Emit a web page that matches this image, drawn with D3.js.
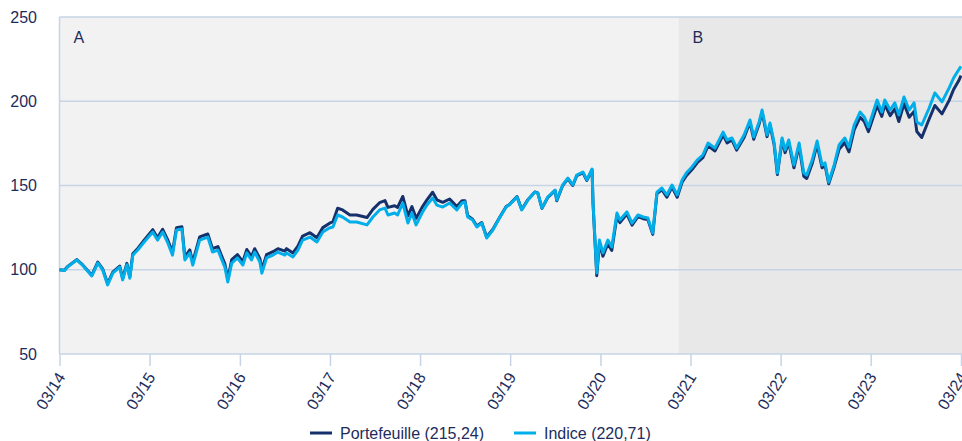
<!DOCTYPE html>
<html>
<head>
<meta charset="utf-8">
<script src="https://cdn.jsdelivr.net/npm/d3@7"></script>
<style>
  body { margin: 0; background: #fff; }
  svg { display: block; font-family: "Liberation Sans", Arial, sans-serif; }
</style>
</head>
<body>
<svg id="chart" width="962" height="441"></svg>
<script>
// values (base 100 at 03/14)
const dates = [
  "2014-03-31","2014-04-20","2014-05-02","2014-06-09","2014-07-02","2014-08-09","2014-09-02","2014-09-22",
  "2014-10-12","2014-11-02","2014-11-30","2014-12-12","2014-12-29","2015-01-10","2015-01-22","2015-02-11",
  "2015-03-09","2015-04-13","2015-05-02","2015-05-23","2015-06-13","2015-07-02","2015-07-18","2015-08-09",
  "2015-08-21","2015-09-10","2015-09-22","2015-10-20","2015-11-22","2015-12-11","2016-01-02","2016-01-18",
  "2016-01-30","2016-02-11","2016-02-27","2016-03-21","2016-04-12","2016-04-28","2016-05-17","2016-05-30",
  "2016-06-20","2016-06-28","2016-07-17","2016-08-12","2016-09-01","2016-09-29","2016-10-06","2016-11-01",
  "2016-11-21","2016-12-10","2017-01-09","2017-02-06","2017-03-02","2017-03-28","2017-04-12","2017-05-01",
  "2017-05-21","2017-06-20","2017-07-17","2017-08-28","2017-09-21","2017-10-18","2017-11-09","2017-11-21",
  "2017-12-18","2017-12-30","2018-01-20","2018-02-10","2018-02-26","2018-03-15","2018-04-08","2018-04-28",
  "2018-05-21","2018-06-07","2018-07-01","2018-07-29","2018-08-27","2018-09-17","2018-09-29","2018-10-10",
  "2018-10-30","2018-11-16","2018-12-06","2018-12-26","2019-01-20","2019-02-18","2019-03-15","2019-03-27",
  "2019-04-28","2019-05-17","2019-06-11","2019-07-09","2019-07-21","2019-08-07","2019-08-31","2019-09-29",
  "2019-10-06","2019-10-30","2019-11-20","2019-12-10","2019-12-26","2020-01-20","2020-02-05","2020-02-26",
  "2020-03-01","2020-03-16","2020-03-27","2020-04-10","2020-04-30","2020-05-16","2020-06-06","2020-06-18",
  "2020-07-16","2020-08-06","2020-08-30","2020-09-20","2020-10-09","2020-10-29","2020-11-15","2020-12-05",
  "2020-12-25","2021-01-15","2021-02-05","2021-02-25","2021-03-14","2021-04-06","2021-04-27","2021-05-20",
  "2021-06-10","2021-07-08","2021-08-10","2021-08-26","2021-09-15","2021-10-04","2021-11-03","2021-11-27",
  "2021-12-12","2022-01-03","2022-01-15","2022-02-04","2022-02-16","2022-03-05","2022-03-18","2022-04-06",
  "2022-04-18","2022-05-03","2022-05-24","2022-06-14","2022-07-03","2022-07-15","2022-08-06","2022-08-26",
  "2022-09-15","2022-09-27","2022-10-12","2022-11-03","2022-11-23","2022-12-16","2023-01-02","2023-01-23",
  "2023-02-16","2023-03-05","2023-03-22","2023-04-26","2023-05-15","2023-05-27","2023-06-18","2023-07-07",
  "2023-07-23","2023-08-13","2023-09-03","2023-09-23","2023-10-04","2023-10-24","2023-11-23","2023-12-16",
  "2024-01-14","2024-02-12","2024-03-01","2024-03-21","2024-03-31"
];

const indice = [
  100, 99.5, 101.6, 105.8, 102.8, 96.3, 104, 100,
  91, 98, 101.6, 94, 103, 95, 108.7, 111.7,
  116.5, 122.4, 117.6, 122.4, 115.9, 108.7, 123.6, 124.2,
  105.8, 110, 102.8, 117.6, 119.4, 110.5, 111.7, 105.8,
  101.6, 92.7, 104, 107, 102.8, 110, 105.8, 110.5,
  104.6, 98, 107, 108.7, 110.5, 108.7, 110, 107.6,
  111.7, 117.6, 119.4, 116.5, 122.4, 124.8, 125.4, 132.5,
  131.3, 128.3, 128.3, 126.6, 131.3, 135.5, 136.6, 132.5,
  133.7, 132.5, 139.6, 127.7, 133.7, 126.6, 133.7, 138.4,
  142.6, 138.4, 137.2, 139.6, 135.5, 139.6, 140.2, 131.3,
  129.5, 125.4, 127.7, 118.8, 123.6, 131.3, 137.2, 138.4,
  143.2, 135.5, 141.4, 146.1, 145.5, 136.6, 143.2, 147.3,
  141.4, 150.3, 154.4, 150.3, 156.2, 158, 153.3, 159.8,
  139.6, 98.1, 117.6, 110, 117.6, 113.5, 133.7, 129.5,
  134.3, 127.7, 132.5, 131.3, 130.7, 121.8, 146.1, 148.5,
  144.4, 150.3, 144.4, 153.3, 157.4, 161, 165.1, 168.1,
  175.2, 172.2, 181.7, 177, 178.2, 172.2, 180, 188.9,
  178.8, 187.7, 194.8, 180, 187.1, 175.2, 157.4, 178.2,
  171.1, 177, 162.2, 175.2, 157.4, 156.2, 165.1, 176.4,
  162.2, 163.4, 152, 162.2, 174, 178.2, 172.8, 185.9,
  193.6, 190.7, 184.7, 200.7, 193.6, 200.7, 194.8, 199,
  191.9, 202.5, 194.8, 199, 187.7, 185.9, 196, 204.9,
  199.6, 207.9, 213.8, 218.5, 220.71
];

const portefeuille = [
  100, 99.7, 101.8, 106, 103, 96.8, 104.5, 100.5,
  91.8, 98.6, 102.2, 94.8, 103.8, 95.8, 109.5, 112.6,
  117.5, 123.8, 119, 124, 117.5, 110.5, 125, 125.5,
  107.5, 111.8, 104.5, 119.5, 121.2, 112.5, 113.7, 107.8,
  103.5, 94.5, 106, 109, 104.8, 112, 107.8, 112.5,
  106.6, 100, 109, 110.7, 112.5, 111, 112.5, 110,
  114, 120, 122, 119, 125, 127.5, 128.5, 136.5,
  135.5, 132.5, 132.5, 131, 135.8, 139.8, 141, 137,
  138, 137, 143.5, 132, 137.5, 130.5, 137, 141.5,
  146, 141.5, 140, 142, 137.5, 141, 141, 132,
  130, 126, 128, 119.5, 124, 131.5, 137.5, 138.6,
  143.4, 135.8, 141.6, 146.2, 145.6, 136.4, 143, 147,
  141, 150, 154, 150, 155.8, 157.5, 153, 159.3,
  139, 96.5, 116, 108, 115.5, 111.5, 132, 128,
  133, 126.5, 131.5, 130.3, 129.8, 121, 145.2, 147.5,
  143, 149, 143, 152, 155.8, 159.5, 163.5, 166.5,
  173.5, 170.5, 180, 175.3, 177, 171, 178.5, 187.5,
  177.5, 186.5, 193.5, 179, 186, 174, 156.5, 177,
  169.5, 175.5, 160.5, 173.5, 155.5, 154.2, 163, 174.5,
  160.5, 162, 151, 161, 171.5, 175.5, 170, 183,
  190.5, 188, 182, 197.5, 191, 198, 191.5, 195.5,
  188, 198.5, 190.5, 194, 182, 178.5, 189.5, 197.5,
  192.5, 200.5, 207, 212, 215.24
];

const yTicks = [50, 100, 150, 200, 250];
const xTickDates = ["2014-03-31","2015-03-31","2016-03-31","2017-03-31","2018-03-31","2019-03-31",
  "2020-03-31","2021-03-31","2022-03-31","2023-03-31","2024-03-31"];
const zones = [
  { label: "A", from: "2014-03-31", to: "2021-02-10" },
  { label: "B", from: "2021-02-10", to: "2024-03-31" }
];
const series = [
  { name: "Portefeuille (215,24)", values: portefeuille, color: "#15306b" },
  { name: "Indice (220,71)", values: indice, color: "#00aeea" }
];

const parse = d3.timeParse("%Y-%m-%d");
const textColor = "#1d2c5b";
const gridColor = "#c6d4e6";

const svg = d3.select("#chart");
const plot = { left: 59.5, right: 961, top: 17, bottom: 354 };

const x = d3.scaleTime()
  .domain([parse(dates[0]), parse(dates[dates.length - 1])])
  .range([plot.left, plot.right]);
const y = d3.scaleLinear().domain([50, 250]).range([plot.bottom, plot.top]);

// zone backgrounds
const zoneFill = ["#f2f2f2", "#e8e8e8"];
svg.append("g").selectAll("rect")
  .data(zones)
  .join("rect")
  .attr("x", d => x(parse(d.from)))
  .attr("y", plot.top)
  .attr("width", (d, i) => (i === zones.length - 1 ? 962 : x(parse(d.to))) - x(parse(d.from)))
  .attr("height", plot.bottom - plot.top)
  .attr("fill", (d, i) => zoneFill[i]);

svg.append("g").selectAll("text")
  .data(zones)
  .join("text")
  .attr("x", d => x(parse(d.from)) + 14)
  .attr("y", 43)
  .attr("fill", textColor)
  .attr("font-size", 16)
  .text(d => d.label);

// y grid + labels
const yAxis = svg.append("g");
yAxis.selectAll("line")
  .data(yTicks)
  .join("line")
  .attr("x1", plot.left).attr("x2", 962)
  .attr("y1", d => y(d)).attr("y2", d => y(d))
  .attr("stroke", gridColor).attr("stroke-width", 1.5);
yAxis.selectAll("text")
  .data(yTicks)
  .join("text")
  .attr("x", 37)
  .attr("y", d => y(d))
  .attr("dy", "0.35em")
  .attr("text-anchor", "end")
  .attr("fill", textColor)
  .attr("font-size", 16)
  .text(d => d);

svg.append("line")
  .attr("x1", plot.left).attr("x2", plot.left)
  .attr("y1", plot.top).attr("y2", plot.bottom)
  .attr("stroke", gridColor).attr("stroke-width", 1.5);

// x axis
const fmt = d3.timeFormat("%m/%y");
const xAxis = svg.append("g")
  .attr("transform", `translate(0,${plot.bottom})`)
  .call(d3.axisBottom(x).tickValues(xTickDates.map(parse)).tickFormat(fmt).tickSize(12));
xAxis.select(".domain").remove();
xAxis.selectAll(".tick line").attr("stroke", gridColor).attr("stroke-width", 1.5);
xAxis.selectAll(".tick text")
  .attr("fill", textColor)
  .attr("font-size", 16)
  .attr("font-family", "Liberation Sans, Arial, sans-serif")
  .attr("text-anchor", "end")
  .attr("x", 0)
  .attr("y", 0)
  .attr("dy", null)
  .attr("transform", "translate(6,23) rotate(-58)");

// lines
const line = d3.line()
  .x((d, i) => x(parse(dates[i])))
  .y(d => y(d));

svg.append("g").selectAll("path")
  .data(series)
  .join("path")
  .attr("d", d => line(d.values))
  .attr("fill", "none")
  .attr("stroke", d => d.color)
  .attr("stroke-width", 3)
  .attr("stroke-linejoin", "round");

// legend
const legend = svg.append("g").attr("transform", "translate(310,433)");
const legendX = [0, 204];
const items = legend.selectAll("g")
  .data(series)
  .join("g")
  .attr("transform", (d, i) => `translate(${legendX[i]},0)`);
items.append("line")
  .attr("x1", 0).attr("x2", 22)
  .attr("stroke", d => d.color).attr("stroke-width", 3);
items.append("text")
  .attr("x", 30)
  .attr("dy", "0.35em")
  .attr("fill", textColor)
  .attr("font-size", 16)
  .text(d => d.name);
</script>
</body>
</html>
